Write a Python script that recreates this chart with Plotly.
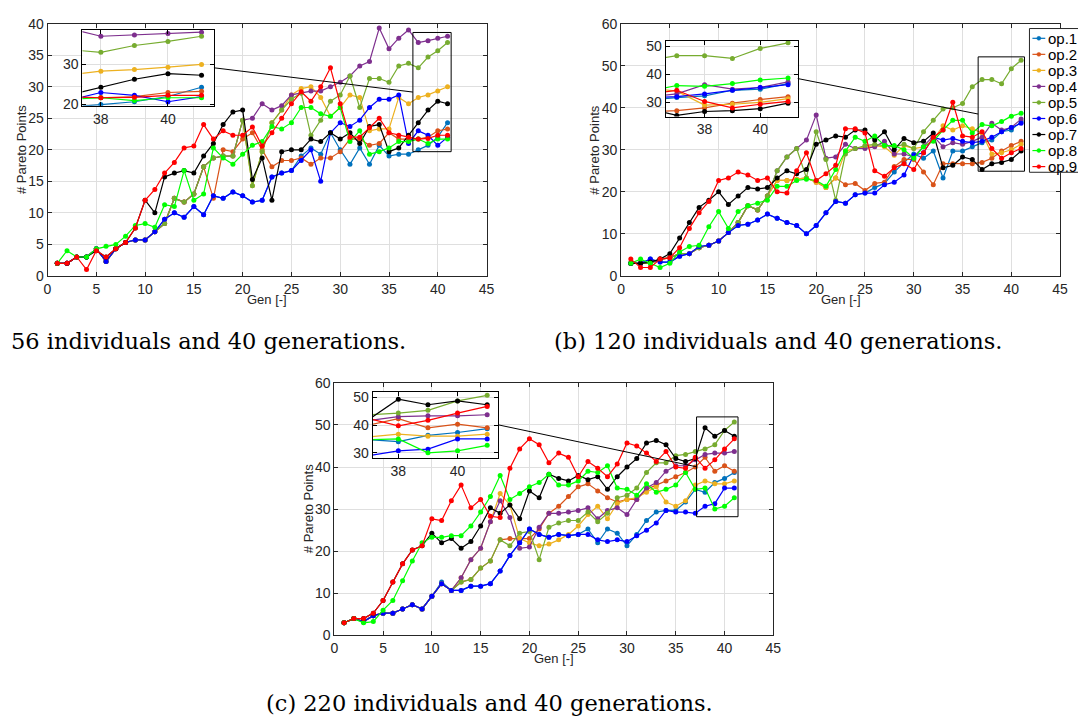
import plotly.graph_objects as go

W, H = 1078, 721

# ---------------- data ----------------
GEN = list(range(1, 42))
SERIES = ["op.1", "op.2", "op.3", "op.4", "op.5", "op.6", "op.7", "op.8", "op.9"]
COLORS = ["#0072BD", "#D95319", "#EDB120", "#7E2F8E", "#77AC30",
          "#0000FF", "#000000", "#00FF00", "#FF0000"]

# (a) 56 individuals
A_OP1 = [2, 2, 3, 3, 4.3, 2.3, 4.3, 5.3, 5.7, 5.7, 7, 9, 10, 9.3, 11, 9.7, 12.7, 12.3, 13.3, 12.7,
         11.7, 12, 15.7, 16.3, 16.7, 19, 20.3, 19.3, 22.7, 20, 17.7, 20.3, 17.7, 20.7, 19, 19.3, 19.3, 20, 20.7, 22, 24.3]
A_OP2 = [2, 2, 3, 3, 4.3, 2.3, 4.3, 5.3, 5.7, 5.7, 7, 8.3, 12.3, 11.7, 13, 17.3, 12.3, 20, 19.7, 21.7,
         22.7, 20, 17.3, 18.3, 18.3, 18.7, 17.7, 18.7, 18.7, 19.7, 21.7, 21.7, 20.7, 21, 22.7, 21.7, 21.7, 21.7, 22, 23, 23.3]
A_OP3 = [2, 2, 3, 3, 4.3, 2.3, 4.3, 5.3, 5.7, 5.7, 7, 8.3, 12.3, 11.7, 13, 17.3, 18.7, 19, 19, 24.7,
         14.3, 19.7, 24.3, 26.3, 28.7, 29.7, 30, 28.3, 25.3, 26.7, 28.7, 28.3, 23, 23.3, 23.3, 28.3, 27.3, 28.3, 28.7, 29.3, 30]
A_OP4 = [2, 2, 3, 3, 4.3, 2.3, 4.3, 5.3, 5.7, 5.7, 7, 8.3, 12.3, 11.7, 13, 17.3, 18.7, 19, 19, 24.7,
         25, 27.3, 26.3, 27, 28.7, 29, 29.3, 29.3, 30, 30.7, 31.7, 33.3, 34, 39.3, 36, 37.7, 39, 37, 37.3, 37.7, 38]
A_OP5 = [2, 2, 3, 3, 4.3, 2.3, 4.3, 5.3, 5.7, 5.7, 7, 8.3, 12.3, 11.7, 13, 17.3, 18.7, 19, 19, 24.7,
         14.3, 19.7, 24.3, 26.3, 28, 29, 22.3, 24.7, 27.7, 28.7, 31.7, 26.7, 31.3, 31.3, 30.7, 33.3, 33.7, 33, 34.7, 35.7, 37]
A_OP6 = [2, 2, 3, 3, 4.3, 2.3, 4.3, 5.3, 5.7, 5.7, 7, 9, 10, 9.3, 11, 9.7, 12.7, 12.3, 13.3, 12.7,
         11.7, 12, 15.7, 16.3, 16.7, 18.3, 20, 15, 22.7, 24.3, 23.7, 24.7, 26.7, 28, 28, 28.7, 21, 23, 22.3, 20.7, 22]
A_OP7 = [2, 2, 3, 3, 4, 3, 4.3, 5.3, 7.6, 12, 10, 15.7, 16.3, 16.7, 16.3, 19, 21, 24, 26, 26.3,
         15.3, 18.7, 12, 19.7, 20, 20, 21.7, 21.3, 22.7, 21.7, 22.7, 21, 23.7, 24, 19.7, 20.3, 22.3, 24.3, 26.3, 27.7, 27.3]
A_OP8 = [2, 4, 3, 3, 4.3, 4.7, 5, 6.3, 8, 8.3, 7.7, 11.3, 11, 16.7, 12, 13, 20.3, 18.7, 17.7, 19.3,
         20.7, 21.3, 23.7, 23.3, 24.3, 26.7, 26.7, 25.7, 25.3, 26.7, 21.3, 23, 19.3, 19.7, 20.3, 21.3, 21.3, 21.7, 21, 21.7, 21.7]
A_OP9 = [2, 2, 3, 1, 4, 3, 4.3, 5.3, 7.6, 12, 13.7, 16.3, 18, 20.3, 20.6, 24, 21.7, 23, 22.3, 22.3,
         23.6, 20.6, 22.7, 25, 27.3, 29.2, 27.7, 30, 33, 27.3, 22, 22, 23.5, 25, 22.7, 22.3, 22, 21.7, 21.8, 22.3, 22.3]

# (b) 120 individuals
B_OP1 = [3, 3, 4, 3.3, 3.3, 4.7, 5.3, 7, 7.3, 8.3, 10.3, 12, 12.3, 13.3, 14.7, 13.7, 12.7, 12, 10, 12,
         15, 17.7, 17.3, 19.3, 19.7, 21, 22, 24.7, 27, 29, 28, 29.7, 23.3, 29.7, 29.7, 30.7, 31.7, 32.3, 34.3, 34.7, 36.7]
B_OP2 = [3, 3, 3, 4, 4.3, 5.3, 5.3, 6.7, 7.3, 8.3, 10.3, 12.7, 16.7, 15.7, 19, 22.7, 22.7, 23, 23.3, 22.3,
         21, 23.3, 21.7, 22, 20.3, 22, 22.3, 26, 27.7, 27.7, 24.7, 21.7, 26.7, 26.7, 26.7, 26.7, 27, 28, 29.7, 31, 32]
B_OP3 = [3, 3, 3, 4, 4.3, 5.3, 5.3, 6.7, 7.3, 8.3, 10.3, 12.7, 16.7, 15.7, 19, 22.7, 22.7, 23, 23.3, 22.3,
         21, 23.3, 29.7, 30.3, 30.7, 31, 30.7, 28.7, 31, 30.3, 30.7, 32.3, 35.7, 34.7, 35.7, 35, 34, 29, 29.3, 30, 31.3]
B_OP4 = [3, 3, 3, 4, 4.3, 5.3, 5.3, 6.7, 7.3, 8.3, 10.3, 12.7, 16.7, 15.7, 19, 25, 28.3, 30.3, 32.3, 38.3,
         28, 28.3, 31.3, 30.3, 30.3, 30.7, 32, 29, 29, 28.3, 30.7, 33.3, 30.7, 31.7, 31.3, 32, 33, 36.3, 34.7, 35.3, 37.3]
B_OP5 = [3, 3, 3, 4, 4.3, 5.3, 5.3, 6.7, 7.3, 8.3, 10.3, 12.7, 16.7, 15.7, 19, 25, 28.3, 30.3, 23.3, 34.3,
         27.7, 18, 29, 30.3, 31, 31.3, 31, 30.7, 31.3, 30.3, 34.3, 37, 39.7, 40, 41, 45, 46.7, 46.7, 45.7, 49.3, 51.3]
B_OP6 = [3, 3, 4, 3.3, 3.3, 4.7, 5.3, 7, 7.3, 8.3, 10.3, 12, 12.3, 13.3, 14.7, 13.7, 12.7, 12, 10, 12,
         15, 17.7, 17.3, 19.3, 19.7, 19.7, 21.7, 22.3, 24, 28.7, 29.3, 33, 32.3, 32.7, 32, 31.7, 32, 33, 34.3, 35.3, 36.3]
B_OP7 = [3, 3, 3.3, 4, 5.3, 9, 12.7, 16.3, 18, 20, 17, 19, 21, 20.7, 21, 23.3, 25, 24.3, 25.3, 31.3,
         32.3, 33.3, 33, 34.7, 34.7, 32.3, 34.3, 30, 32.7, 31.7, 32, 34, 25.7, 26.3, 28.3, 27.7, 25.3, 26.7, 27, 27.7, 29.7]
B_OP8 = [3, 4, 3, 2, 3, 5.7, 7, 7.3, 11.7, 15.3, 11.3, 15.3, 16.7, 17.3, 18, 21.3, 21.3, 22.7, 23, 22.7,
         21.3, 25.3, 29.7, 33, 32, 33.3, 31, 31, 30, 28, 30.7, 32, 34.7, 37, 37, 34, 36, 35.7, 36.7, 38, 38.7]
B_OP9 = [4, 2, 2, 4, 4.3, 6.7, 11.3, 15, 17.7, 22.7, 23.3, 24.7, 24, 22.7, 23.3, 20, 19.7, 25, 29.3, 22.7,
         24.3, 26.3, 35, 35, 34, 25, 23.7, 25.7, 26.7, 25.3, 29.3, 33, 34.7, 41.3, 33.3, 33, 34.3, 30.3, 28, 29.3, 30.3]

# (c) 220 individuals
C_OP1 = [3, 4, 3.3, 4.7, 5.3, 5.3, 6.3, 7.3, 6.3, 9.3, 12.7, 10.7, 10.7, 11.7, 11.7, 12.3, 15.3, 19, 22, 25.3,
         24, 23.3, 24, 23.7, 24, 25.3, 22, 25.3, 24.3, 21.3, 24, 27.3, 29.3, 29.7, 29.7, 31.7, 34.7, 34, 36.3, 37.3, 38.7]
C_OP2 = [3, 4, 3.3, 4.7, 5.3, 5.3, 6.3, 7.3, 6.3, 9.3, 12.3, 10.7, 12.7, 13.3, 16, 17.7, 22.7, 23, 23, 23,
         25.3, 29, 30.7, 33, 35.3, 36, 34.3, 32.7, 31.7, 32.3, 32.3, 34.7, 35.7, 36.7, 37.7, 38.7, 40, 42.3, 39, 40.3, 39]
C_OP3 = [3, 4, 3.3, 4.7, 5.3, 5.3, 6.3, 7.3, 6.3, 9.3, 12.3, 10.7, 13.7, 18, 20.7, 27, 33.7, 31, 23, 22,
         21.3, 21.7, 22.7, 24, 26, 28.7, 30.7, 27.7, 31.3, 32.3, 32.7, 34, 35.3, 31.7, 30.7, 32, 35.7, 36.7, 36, 36, 36.7]
C_OP4 = [3, 4, 3.3, 4.7, 5.3, 5.3, 6.3, 7.3, 6.3, 9.3, 12.3, 10.7, 13.7, 18, 20.7, 27, 32, 28, 20.7, 21,
         25.7, 29, 29, 29.3, 29.7, 30.3, 27.7, 29.7, 30.3, 28.7, 32.3, 35, 36.3, 39, 40.3, 40.3, 41.7, 43, 43.3, 43.3, 43.7]
C_OP5 = [3, 4, 3.3, 4.7, 5.3, 5.3, 6.3, 7.3, 6.3, 9.3, 12.3, 10.7, 12.7, 13.3, 16, 17.7, 22.7, 21.3, 24.3, 24.7,
         18, 25.7, 26.7, 27.3, 27.3, 29.3, 27, 29, 32.7, 33.3, 35, 38.7, 41, 41, 42.7, 43, 43.7, 44.3, 45.3, 48.7, 50.7]
C_OP6 = [3, 4, 3.3, 4.7, 5.3, 5.3, 6.3, 7.3, 6.3, 9.3, 12.3, 10.7, 10.7, 11.7, 11.7, 12.3, 15.3, 19, 22, 25.3,
         24, 23.3, 24, 23.7, 24, 24, 22.7, 22.3, 22.7, 22.3, 23.7, 25, 26.7, 29.7, 29.3, 29.3, 29, 30.7, 31.3, 35, 35]
C_OP7 = [3, 4, 4, 5.3, 8.3, 12.7, 17, 20.3, 21.3, 24.3, 22, 23, 20.7, 22.3, 26, 30.3, 29, 31, 27.7, 34.3,
         32.7, 38.3, 37.3, 36.7, 38, 37, 37.7, 34.7, 37.7, 40, 42, 45.7, 46.3, 45.3, 42, 41.3, 42, 49.3, 47.3, 48.7, 47.3]
C_OP8 = [3, 4, 3, 3.3, 6, 8.3, 13, 17.7, 22, 23.3, 23.3, 23.7, 23.7, 26, 29.3, 33, 38, 32.3, 33.7, 35.3,
         36.3, 38.3, 35.7, 35.7, 36.7, 39, 38.7, 40.3, 35, 34.7, 33.3, 36, 34, 34.7, 35.7, 38.7, 34.7, 35, 30, 30.7, 32.7]
C_OP9 = [3, 4, 4, 5.3, 8.3, 12.7, 17, 20.3, 21.3, 27.7, 27.3, 32, 35.7, 30.3, 32.3, 28.3, 28, 39.7, 44.3, 46.7,
         45.3, 41, 43.3, 42.3, 37.7, 41.3, 39.7, 37.7, 40.7, 45.7, 45, 43.3, 41.3, 43.7, 40, 39.7, 42.3, 39.7, 41.7, 44.3, 46.7]

X_TICKS = [0, 5, 10, 15, 20, 25, 30, 35, 40, 45]
Y_TICKS_A = [0, 5, 10, 15, 20, 25, 30, 35, 40]
Y_TICKS_BC = [0, 10, 20, 30, 40, 50, 60]
INSET_X_TICKS = [38, 40]
INSET_Y_TICKS_A = [20, 30]
INSET_Y_TICKS_BC = [30, 40, 50]

CAPTIONS = ["56 individuals and 40 generations.",
            "(b) 120 individuals and 40 generations.",
            "(c) 220 individuals and 40 generations."]
X_TITLE = "Gen [-]"
Y_TITLE = "# Pareto Points"

# ---------------- layout helpers ----------------
def fx(px):
    return px / W


def fy(py):
    return 1 - py / H


PANELS = [
    dict(data=[A_OP1, A_OP2, A_OP3, A_OP4, A_OP5, A_OP6, A_OP7, A_OP8, A_OP9],
         plot=(44, 16, 488, 274), xr=[0, 45], yr=[0, 40], yt=Y_TICKS_A,
         inset=(79.3, 22.3, 212.3, 100), zx=[37.45, 41.37], zy=[19.7, 38.6], iyt=INSET_Y_TICKS_A,
         cap=(5, 341, "left")),
    dict(data=[B_OP1, B_OP2, B_OP3, B_OP4, B_OP5, B_OP6, B_OP7, B_OP8, B_OP9],
         plot=(624, 16, 1068, 274), xr=[0, 45], yr=[0, 60], yt=Y_TICKS_BC,
         inset=(669.1, 33.3, 802.7, 111), zx=[36.6, 41.35], zy=[24.9, 52.1], iyt=INSET_Y_TICKS_BC,
         cap=(783, 341, "center")),
    dict(data=[C_OP1, C_OP2, C_OP3, C_OP4, C_OP5, C_OP6, C_OP7, C_OP8, C_OP9],
         plot=(334, 383.3, 778, 641.7), xr=[0, 45], yr=[0, 60], yt=Y_TICKS_BC,
         inset=(372.7, 392.7, 500, 460), zx=[37.13, 41.38], zy=[28.2, 51.9], iyt=INSET_Y_TICKS_BC,
         cap=(491, 711, "center")),
]

TICK_FONT = dict(family="Liberation Sans, Arial, sans-serif", size=14, color="#262626")
AX_COLOR = "#262626"
GRID = "#dfdfdf"


def axis(rng, tickvals, domain, anchor, line="#262626"):
    return dict(range=rng, tickvals=tickvals, domain=domain, anchor=anchor,
                showline=True, linecolor=line, linewidth=1, mirror="ticks",
                ticks="inside", ticklen=4, tickcolor=line, tickwidth=1,
                showgrid=True, gridcolor=GRID, gridwidth=1, zeroline=False,
                tickfont=TICK_FONT, fixedrange=True)


fig = go.Figure()
layout = dict(width=W, height=H, autosize=False,
              margin=dict(l=0, r=0, t=0, b=0),
              paper_bgcolor="white", plot_bgcolor="white",
              showlegend=False, hovermode=False)
shapes = []
annotations = []

for i, p in enumerate(PANELS):
    m = i + 1          # main axes index
    n = i + 4          # inset axes index
    mx = "x" if m == 1 else f"x{m}"
    my = "y" if m == 1 else f"y{m}"
    nx, ny = f"x{n}", f"y{n}"
    x0, y0, x1, y1 = p["plot"]
    ix0, iy0, ix1, iy1 = p["inset"]

    layout["xaxis" if m == 1 else f"xaxis{m}"] = axis(p["xr"], X_TICKS, [fx(x0), fx(x1)], my)
    layout["yaxis" if m == 1 else f"yaxis{m}"] = axis(p["yr"], p["yt"], [fy(y1), fy(y0)], mx)
    layout[f"xaxis{n}"] = axis(p["zx"], INSET_X_TICKS, [fx(ix0), fx(ix1)], ny, "#000000")
    layout[f"yaxis{n}"] = axis(p["zy"], p["iyt"], [fy(iy1), fy(iy0)], nx, "#000000")

    for xa, ya in ((mx, my), (nx, ny)):
        for s, (name, col) in enumerate(zip(SERIES, COLORS)):
            fig.add_trace(go.Scatter(
                x=GEN, y=p["data"][s], name=name, mode="lines+markers",
                line=dict(color=col, width=1.2),
                marker=dict(color=col, size=5),
                xaxis=xa, yaxis=ya, showlegend=False))

    # zoom box on main axes
    shapes.append(dict(type="rect", xref=mx, yref=my,
                       x0=p["zx"][0], x1=p["zx"][1], y0=p["zy"][0], y1=p["zy"][1],
                       line=dict(color="#000000", width=1), layer="above"))
    # connector: inset right edge mid -> zoom box left edge mid
    bx = fx(x0) + (p["zx"][0] - p["xr"][0]) / (p["xr"][1] - p["xr"][0]) * (fx(x1) - fx(x0))
    by = fy(y1) + ((p["zy"][0] + p["zy"][1]) / 2 - p["yr"][0]) / (p["yr"][1] - p["yr"][0]) * (fy(y0) - fy(y1))
    shapes.append(dict(type="line", xref="paper", yref="paper",
                       x0=fx(ix1), y0=(fy(iy0) + fy(iy1)) / 2, x1=bx, y1=by,
                       line=dict(color="#000000", width=1), layer="above"))

    # axis titles
    annotations.append(dict(text=Y_TITLE, xref="paper", yref="paper",
                            x=fx(x0 - 26.5), y=(fy(y0) + fy(y1)) / 2, textangle=-90,
                            xanchor="center", yanchor="middle", showarrow=False,
                            font=dict(family="Liberation Sans, Arial, sans-serif", size=13, color=AX_COLOR)))
    annotations.append(dict(text=X_TITLE, xref="paper", yref="paper",
                            x=(fx(x0) + fx(x1)) / 2, y=fy(y1 + 24),
                            xanchor="center", yanchor="middle", showarrow=False,
                            font=dict(family="Liberation Sans, Arial, sans-serif", size=13, color=AX_COLOR)))
    # caption
    cx, cy, anc = p["cap"]
    annotations.append(dict(text=CAPTIONS[i], xref="paper", yref="paper",
                            x=fx(cx), y=fy(cy), xanchor=anc, yanchor="middle", showarrow=False,
                            font=dict(family="DejaVu Serif, serif", size=22.5, color="#000000")))

# manual legend for panel (b)
LEG_LEFT, LEG_TOP, LEG_BOTTOM, LEG_STEP = 1037, 21, 168, 16.4
shapes.append(dict(type="rect", xref="paper", yref="paper",
                   x0=fx(LEG_LEFT), x1=fx(1095), y0=fy(LEG_BOTTOM), y1=fy(LEG_TOP),
                   line=dict(color=AX_COLOR, width=1), fillcolor="white", layer="above"))
for s, (name, col) in enumerate(zip(SERIES, COLORS)):
    yc = LEG_TOP + 10 + LEG_STEP * s
    shapes.append(dict(type="line", xref="paper", yref="paper",
                       x0=fx(1040), x1=fx(1053), y0=fy(yc), y1=fy(yc),
                       line=dict(color=col, width=1.2), layer="above"))
    shapes.append(dict(type="circle", xref="paper", yref="paper",
                       x0=fx(1044.5), x1=fx(1048.5), y0=fy(yc + 2), y1=fy(yc - 2),
                       line=dict(color=col, width=0.5), fillcolor=col, layer="above"))
    annotations.append(dict(text=name, xref="paper", yref="paper", x=fx(1054), y=fy(yc),
                            xanchor="left", yanchor="middle", showarrow=False,
                            font=dict(family="Liberation Sans, Arial, sans-serif", size=15, color="#000000")))

layout["shapes"] = shapes
layout["annotations"] = annotations
fig.update_layout(**layout)
fig.write_html("out.html")
